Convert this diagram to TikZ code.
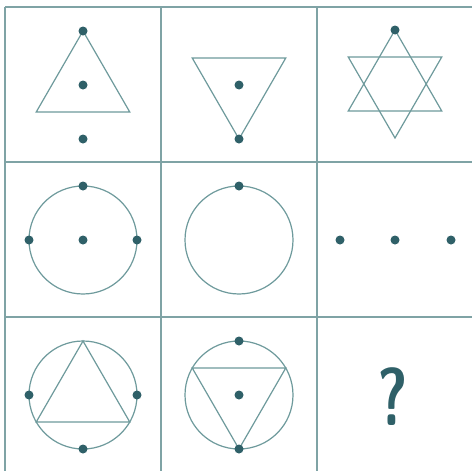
\documentclass[tikz,border=0pt]{standalone}
\definecolor{lineC}{HTML}{6E9A9C}
\definecolor{dotC}{HTML}{2F6068}
\definecolor{gridC}{HTML}{7FA3A5}
\tikzset{
  shape line/.style={draw=lineC, line width=1.2pt, line join=miter},
  gridline/.style={draw=gridC, line width=1.1pt},
  dot/.style={circle, fill=dotC, inner sep=0pt, minimum size=9pt},
}
\begin{document}
\begin{tikzpicture}[x=1pt,y=-1pt]
\useasboundingbox (0,0) rectangle (472,471);
\fill[white] (0,0) rectangle (472,471);
% grid
\draw[gridline] (5,7) -- (472,7);
\draw[gridline] (5,162) -- (472,162);
\draw[gridline] (5,317) -- (472,317);
\draw[gridline] (5,7) -- (5,471);
\draw[gridline] (161,7) -- (161,471);
\draw[gridline] (317,7) -- (317,471);
% cell (1,1)
\begin{scope}[shift={(83,85)}]
\draw[shape line] (90:-54) -- (210:-54) -- (330:-54) -- cycle;
\node[dot] (a1) at (0,-54) {};
\node[dot] (a2) at (0,0) {};
\node[dot] (a3) at (0,54) {};
\end{scope}
% cell (1,2)
\begin{scope}[shift={(239,85)}]
\draw[shape line] (90:54) -- (210:54) -- (330:54) -- cycle;
\node[dot] (b1) at (0,0) {};
\node[dot] (b2) at (0,54) {};
\end{scope}
% cell (1,3)
\begin{scope}[shift={(395,84)}]
\draw[shape line] (90:-54) -- (210:-54) -- (330:-54) -- cycle;
\draw[shape line] (90:54) -- (210:54) -- (330:54) -- cycle;
\node[dot] (c1) at (0,-54) {};
\end{scope}
% cell (2,1)
\begin{scope}[shift={(83,240)}]
\draw[shape line] (0,0) circle (54);
\node[dot] (d1) at (0,-54) {};
\node[dot] (d2) at (-54,0) {};
\node[dot] (d3) at (54,0) {};
\node[dot] (d4) at (0,0) {};
\end{scope}
% cell (2,2)
\begin{scope}[shift={(239,240)}]
\draw[shape line] (0,0) circle (54);
\node[dot] (e1) at (0,-54) {};
\end{scope}
% cell (2,3)
\node[dot] (f1) at (340,240) {};
\node[dot] (f2) at (395,240) {};
\node[dot] (f3) at (451,240) {};
% cell (3,1)
\begin{scope}[shift={(83,395)}]
\draw[shape line] (0,0) circle (54);
\draw[shape line] (90:-54) -- (210:-54) -- (330:-54) -- cycle;
\node[dot] (g1) at (-54,0) {};
\node[dot] (g2) at (54,0) {};
\node[dot] (g3) at (0,54) {};
\end{scope}
% cell (3,2)
\begin{scope}[shift={(239,395)}]
\draw[shape line] (0,0) circle (54);
\draw[shape line] (90:54) -- (210:54) -- (330:54) -- cycle;
\node[dot] (h1) at (0,-54) {};
\node[dot] (h2) at (0,0) {};
\node[dot] (h3) at (0,54) {};
\end{scope}
% cell (3,3)
\node[text=dotC, font=\sffamily\bfseries\fontsize{82}{82}\selectfont, xscale=0.72, inner sep=0pt] (q) at (393,397) {?};
\end{tikzpicture}
\end{document}
